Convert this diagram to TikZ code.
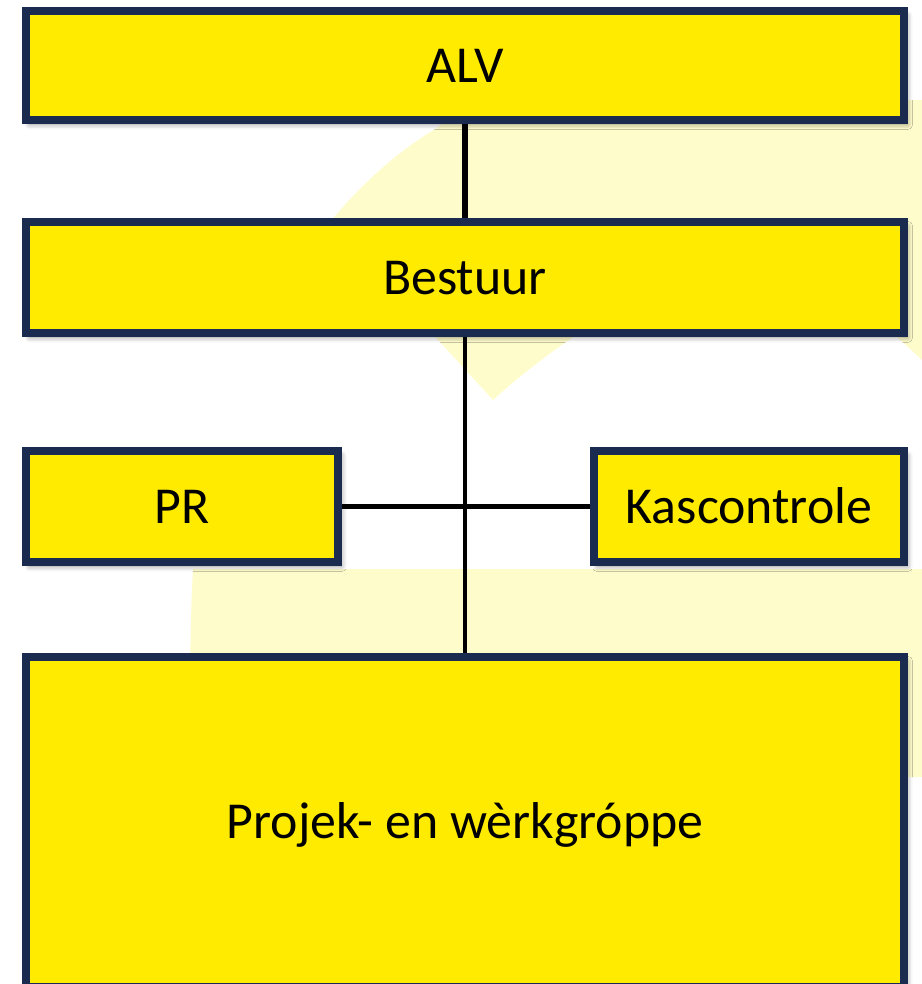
\documentclass[tikz,border=0pt]{standalone}
\usepackage{fontspec}
\setmainfont{Carlito}
\usetikzlibrary{shadows.blur}
\definecolor{logoyellow}{HTML}{FFEB00}
\definecolor{framenavy}{HTML}{1B2B4F}
\definecolor{paleyellow}{HTML}{FFFCCC}
\tikzset{
  unitbox/.style={draw=framenavy, line width=4.5pt, fill=logoyellow, inner sep=0pt,
    text height=19pt, text depth=0pt, font=\fontsize{29.5}{35}\selectfont,
    blur shadow={shadow xshift=2pt, shadow yshift=-2.5pt, shadow blur radius=3pt, shadow opacity=45}},
}

\begin{document}
\begin{tikzpicture}[x=0.02cm, y=-0.02cm]
	\useasboundingbox (0,0) rectangle (922,984);
	% pale logo in the back
	\fill[paleyellow] (493,400) -- (330,222) .. controls (365,180) and (400,150) .. (437,128) -- (470,100) -- (922,100) -- (922,360) -- (897,337) -- (620,300) -- (573,337) .. controls (540,360) and (515,380) .. (493,400) -- cycle;
	\fill[paleyellow] (189,984) .. controls (189,700) and (190,620) .. (193,569) -- (922,569) -- (922,777) -- (900,777) -- (900,984) -- cycle;
	% boxes
	\node[unitbox, minimum width=17.56cm, minimum height=2.18cm] (alv) at (465,65.5) {ALV};
	\node[unitbox, minimum width=17.56cm, minimum height=2.22cm] (bestuur) at (465,277.5) {Bestuur};
	\node[unitbox, minimum width=6.24cm, minimum height=2.22cm] (pr) at (182,506.5) {PR};
	\node[unitbox, minimum width=6.2cm, minimum height=2.22cm] (kas) at (749,506.5) {Kascontrole};
	\node[unitbox, minimum width=17.56cm, minimum height=6.6cm] (projek) at (465,822) {Projek- en wèrkgróppe};
	% lines
	\draw[line width=3.4pt] (alv.south) -- (bestuur.north);
	\draw[line width=2.6pt] (bestuur.south) -- (projek.north);
	\draw[line width=3.2pt] (pr.east) -- (kas.west);
\end{tikzpicture}
\end{document}
